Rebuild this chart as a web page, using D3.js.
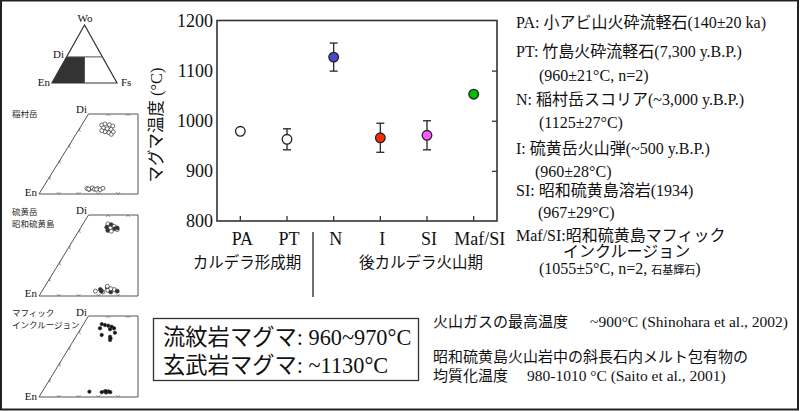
<!DOCTYPE html>
<html><head><meta charset="utf-8">
<script src="https://cdn.jsdelivr.net/npm/d3@7"></script>
<style>
html,body{margin:0;padding:0;background:#fff;}
svg{display:block;}
</style></head>
<body>
<svg id="c" width="800" height="411"></svg>
<script>
// ---------- data ----------
const categories = ["PA", "PT", "N", "I", "SI", "Maf/SI"];
const temps = [979, 963, 1127, 966, 971, 1053];
const errs = [0, 21, 28, 29, 29, 0];
const fills = ["#ffffff", "#ffffff", "#4a4ac6", "#ff2a00", "#ff5cff", "#00c000"];
const yTicks = [800, 900, 1000, 1100, 1200];
const groupLabels = ["カルデラ形成期", "後カルデラ火山期"];
const yLabel = "マグマ温度 (°C)";

const legendLines = [
  ["PA: 小アビ山火砕流軽石(140±20 ka)"],
  ["PT: 竹島火砕流軽石(7,300 y.B.P.)"],
  ["(960±21°C, n=2)"],
  ["N: 稲村岳スコリア(~3,000 y.B.P.)"],
  ["(1125±27°C)"],
  ["I: 硫黄岳火山弾(~500 y.B.P.)"],
  ["(960±28°C)"],
  ["SI: 昭和硫黄島溶岩(1934)"],
  ["(967±29°C)"],
  ["Maf/SI:昭和硫黄島マフィック", "インクルージョン"],
  ["(1055±5°C, n=2, ", "石基輝石", ")"]
];
const boxLines = ["流紋岩マグマ: 960~970°C", "玄武岩マグマ: ~1130°C"];
const noteGas = ["火山ガスの最高温度", "~900°C (Shinohara et al., 2002)"];
const noteMelt = ["昭和硫黄島火山岩中の斜長石内メルト包有物の", "均質化温度", "980-1010 °C (Saito et al., 2001)"];

// pyroxene compositions [Wo, Fs]
const panelNames = [["稲村岳"], ["硫黄岳", "昭和硫黄島"], ["マフィック", "インクルージョン"]];
const p1Aug = [[43.1,10.1],[43.8,11.4],[43.3,13.9],[42.5,16],[41.3,11.8],[40.8,14.1],[40.4,16.2],[38.9,13.9],[38.3,16.2],[37.3,17.9],[39.6,11.9],[38.9,18.1]];
const p1Opx = [[3.5,22.5],[2.8,24],[3.8,25],[3.0,26.5],[3.4,28],[2.7,29.5],[3.6,30.5],[3.1,23.5],[2.9,27.5]];
const p2Aug = [[44.5,12.5],[44,14.5],[43,16.5],[42.5,13],[42,15],[41.5,17.5],[41,19],[40.5,14.5],[40,16.5],[42,18.5]];
const p2Opx = [[3,27],[4,29],[2.5,31],[5,32],[3.5,33],[2.5,35],[4,36],[3,38],[6,31.5],[3,30],[4.5,34]];
const p3Aug = [[45,9.2],[44.4,11.1],[44,13],[43.4,15],[42.4,16.7],[41.8,15],[39.7,18.5],[38.3,12.5],[37.2,17.3],[35.2,18.3],[42.4,9.6],[36.2,18]];
const p3Opx = [[3.3,23.8],[3,30.2],[3.5,31.5],[2.8,32.5],[3.4,33.5],[3,34.5],[3.6,32]];
const quadTicksFs = [10, 20, 30, 40];
const quadTopTicksFs = [10, 20];
const quadSideTicksWo = [10, 20, 30, 40];

// ---------- drawing ----------
const svg = d3.select("#c");
const SERIF = "'Liberation Serif','Times New Roman','Noto Sans CJK JP',serif";
const SANS = "'Noto Sans CJK JP','Noto Sans',sans-serif";

// outer border
svg.append("rect").attr("x", 1).attr("y", 0.5).attr("width", 797).attr("height", 409)
  .attr("fill", "none").attr("stroke", "#222").attr("stroke-width", 2);

// main chart
const L = 217, R = 497, T = 20.5, B = 221;
const x = d3.scaleBand().domain(categories).range([L, R]);
const y = d3.scaleLinear().domain([800, 1200]).range([B, T]);
const g = svg.append("g");

const ay = g.append("g").attr("transform", `translate(${L},0)`)
  .call(d3.axisLeft(y).tickValues(yTicks).tickSize(0).tickPadding(4).tickFormat(d3.format("d")));
ay.select(".domain").remove();
ay.selectAll("text").attr("font-family", SERIF).attr("font-size", 18).attr("fill", "#111");

const ar = g.append("g").attr("transform", `translate(${R},0)`)
  .call(d3.axisLeft(y).tickValues(yTicks.slice(1, -1)).tickSize(5).tickFormat(""));
ar.select(".domain").remove();
ar.selectAll("line").attr("stroke", "#333").attr("stroke-width", 1.3);

const ab = g.append("g").attr("transform", `translate(0,${B})`)
  .call(d3.axisTop(x).tickSize(5).tickFormat(""));
ab.select(".domain").remove();
ab.selectAll("line").attr("stroke", "#333").attr("stroke-width", 1.3);

g.append("rect").attr("x", L).attr("y", T).attr("width", R - L).attr("height", B - T)
  .attr("fill", "none").attr("stroke", "#333").attr("stroke-width", 1.6);

// category labels
g.selectAll(".cat").data(categories).join("text")
  .attr("x", d => x(d) + x.bandwidth() / 2 + (d === "Maf/SI" ? 6 : 2))
  .attr("y", 245).attr("text-anchor", "middle")
  .attr("font-family", SERIF).attr("font-size", 18).attr("fill", "#111").text(d => d);

// divider
g.append("line").attr("x1", 313).attr("x2", 313).attr("y1", 232).attr("y2", 297)
  .attr("stroke", "#222").attr("stroke-width", 1.3);
g.append("text").attr("x", 247).attr("y", 268).attr("text-anchor", "middle")
  .attr("font-family", SANS).attr("font-size", 15.5).attr("fill", "#111").text(groupLabels[0]);
g.append("text").attr("x", 421).attr("y", 268).attr("text-anchor", "middle")
  .attr("font-family", SANS).attr("font-size", 15.5).attr("fill", "#111").text(groupLabels[1]);

// y label
g.append("text").attr("transform", "translate(162,125) rotate(-90)").attr("text-anchor", "middle")
  .attr("font-family", SERIF).attr("font-size", 16.5).attr("fill", "#111").text(yLabel);

// error bars & points
const pts = categories.map((c, i) => ({c, v: temps[i], e: errs[i], f: fills[i]}));
const eb = g.selectAll(".eb").data(pts.filter(d => d.e > 0)).join("g");
eb.append("line").attr("x1", d => x(d.c) + x.bandwidth() / 2).attr("x2", d => x(d.c) + x.bandwidth() / 2)
  .attr("y1", d => y(d.v - d.e)).attr("y2", d => y(d.v + d.e)).attr("stroke", "#333").attr("stroke-width", 1.4);
[1, -1].forEach(s => {
  eb.append("line").attr("x1", d => x(d.c) + x.bandwidth() / 2 - 4).attr("x2", d => x(d.c) + x.bandwidth() / 2 + 4)
    .attr("y1", d => y(d.v + s * d.e)).attr("y2", d => y(d.v + s * d.e)).attr("stroke", "#333").attr("stroke-width", 1.4);
});
g.selectAll(".pt").data(pts).join("circle")
  .attr("cx", d => x(d.c) + x.bandwidth() / 2).attr("cy", d => y(d.v)).attr("r", 4.8)
  .attr("fill", d => d.f).attr("stroke", "#222").attr("stroke-width", 1.3);

// right legend
const legX = [516, 516, 539, 516, 539, 516, 535, 516, 538, 516, 539];
const legY = [28, 57, 81, 105, 128, 154, 177, 196, 218, 241, 274];
legendLines.forEach((parts, i) => {
  const t = svg.append("text").attr("x", legX[i]).attr("y", legY[i])
    .attr("font-family", SERIF).attr("font-size", 16).attr("fill", "#111");
  if (i === 9) {
    t.append("tspan").text(parts[0]);
    t.append("tspan").attr("x", 563).attr("dy", 15.5).text(parts[1]);
  } else {
    parts.forEach((p, j) => {
      const ts = t.append("tspan").text(p);
      if (j === 1) ts.attr("font-size", 11).attr("font-family", SANS);
    });
  }
});

// bottom box
svg.append("rect").attr("x", 153.5).attr("y", 318.5).attr("width", 265).attr("height", 62)
  .attr("fill", "none").attr("stroke", "#333").attr("stroke-width", 1.3);
boxLines.forEach((t, i) => {
  svg.append("text").attr("x", 163).attr("y", 345 + i * 28)
    .attr("font-family", SERIF).attr("font-size", 22.3).attr("fill", "#111").text(t);
});

// notes
const gasT = svg.append("text").attr("x", 433).attr("y", 327).attr("font-size", 15).attr("fill", "#111");
gasT.append("tspan").attr("font-family", SANS).text(noteGas[0]);
gasT.append("tspan").attr("x", 590).attr("font-family", SERIF).attr("font-size", 15.5).text(noteGas[1]);
const meltT = svg.append("text").attr("x", 433).attr("y", 362).attr("font-size", 15).attr("fill", "#111");
meltT.append("tspan").attr("font-family", SANS).text(noteMelt[0]);
meltT.append("tspan").attr("x", 433).attr("dy", 19).attr("font-family", SANS).text(noteMelt[1]);
meltT.append("tspan").attr("x", 527).attr("font-family", SERIF).attr("font-size", 15.5).text(noteMelt[2]);

// ---------- ternary (Wo-En-Fs) ----------
const tx = d3.scaleLinear().domain([0, 100]).range([52, 117]);  // X = Fs + Wo/2
const ty = d3.scaleLinear().domain([0, 100]).range([83, 25]);   // Wo
const tern = (wo, fs) => [tx(fs + wo / 2), ty(wo)];
const tg = svg.append("g");
const diWo = 45, splitX = 50;
tg.append("path").attr("d", d3.line()([tern(0,0), tern(diWo,0), [tx(splitX), ty(diWo)], [tx(splitX), ty(0)]]) + "Z")
  .attr("fill", "#333").attr("stroke", "none");
tg.append("path").attr("d", d3.line()([tern(100,0), tern(0,0), tern(0,100)]) + "Z")
  .attr("fill", "none").attr("stroke", "#333").attr("stroke-width", 1.2);
tg.append("line").attr("x1", tern(diWo,0)[0]).attr("x2", tern(diWo, 100 - diWo)[0])
  .attr("y1", ty(diWo)).attr("y2", ty(diWo)).attr("stroke", "#555").attr("stroke-width", 1);
tg.append("line").attr("x1", tx(splitX)).attr("x2", tx(splitX)).attr("y1", ty(diWo)).attr("y2", ty(0))
  .attr("stroke", "#555").attr("stroke-width", 1);
const smallSerif = (sel, xx, yy, t, anchor) => sel.append("text").attr("x", xx).attr("y", yy)
  .attr("text-anchor", anchor || "start").attr("font-family", SERIF).attr("font-size", 11).attr("fill", "#111").text(t);
smallSerif(tg, 85, 22, "Wo", "middle");
smallSerif(tg, 64, 58, "Di", "end");
smallSerif(tg, 50, 86, "En", "end");
smallSerif(tg, 121, 86, "Fs");

// ---------- quadrilateral panels ----------
const panels = [
  {top: 114, bot: 194, names: panelNames[0], aug: p1Aug, opx: p1Opx, style: "open", diY: 113, enY: 196, nameY: 117},
  {top: 215, bot: 296, names: panelNames[1], aug: p2Aug, opx: p2Opx, style: "mix", diY: 214, enY: 297, nameY: 215},
  {top: 316, bot: 397, names: panelNames[2], aug: p3Aug, opx: p3Opx, style: "fill", diY: 316, enY: 400, nameY: 316}
];
panels.forEach(p => {
  const qx = d3.scaleLinear().domain([0, 50]).range([39, 138]);
  const qy = d3.scaleLinear().domain([0, 50]).range([p.bot, p.top]);
  const q = (wo, fs) => [qx(fs + wo / 2), qy(wo)];
  const pg = svg.append("g");
  pg.append("path").attr("d", d3.line()([q(0,0), q(50,0), q(50,25), q(0,50)]) + "Z")
    .attr("fill", "none").attr("stroke", "#555").attr("stroke-width", 1);
  const tickMark = (pt) => {
    pg.append("path").attr("d", `M${pt[0]-1.8},${pt[1]-1.8}L${pt[0]},${pt[1]}L${pt[0]+1.8},${pt[1]-1.8}`)
      .attr("fill", "none").attr("stroke", "#666").attr("stroke-width", 0.8);
  };
  quadTicksFs.forEach(f => tickMark(q(0, f)));
  quadTopTicksFs.forEach(f => { const pt = q(50, f); pg.append("path")
    .attr("d", `M${pt[0]-1.8},${pt[1]+1.8}L${pt[0]},${pt[1]}L${pt[0]+1.8},${pt[1]+1.8}`)
    .attr("fill", "none").attr("stroke", "#666").attr("stroke-width", 0.8); });
  quadSideTicksWo.forEach(w => { const pt = q(w, 0); pg.append("path")
    .attr("d", `M${pt[0]+2},${pt[1]-1.5}L${pt[0]},${pt[1]}L${pt[0]+2},${pt[1]+1.5}`)
    .attr("fill", "none").attr("stroke", "#666").attr("stroke-width", 0.8); });
  smallSerif(pg, 87, p.diY, "Di", "end");
  smallSerif(pg, 37, p.enY, "En", "end");
  p.names.forEach((n, i) => pg.append("text").attr("x", 12).attr("y", p.nameY + i * 11.5)
    .attr("font-family", SANS).attr("font-size", 8.5).attr("fill", "#222").text(n));
  const all = p.aug.concat(p.opx);
  pg.selectAll(".d").data(all).join("circle")
    .attr("cx", d => q(d[0], d[1])[0]).attr("cy", d => q(d[0], d[1])[1])
    .attr("r", p.style === "fill" ? 1.7 : 2)
    .attr("fill", (d, i) => p.style === "fill" ? "#111" : (p.style === "mix" && i % 2 ? "#333" : "#fff"))
    .attr("stroke", "#333").attr("stroke-width", 0.7);
});
</script>
</body></html>
